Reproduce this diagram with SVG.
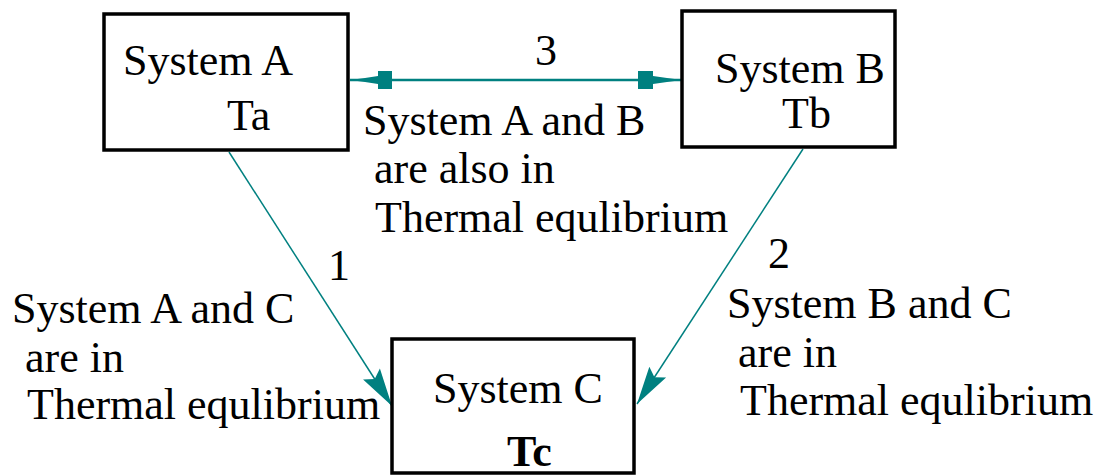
<svg xmlns="http://www.w3.org/2000/svg" width="1097" height="475" viewBox="0 0 1097 475">
<style>
.box{fill:#fff;stroke:#000;stroke-width:3.5}
text{font-family:'Liberation Serif','Times New Roman',Times,serif;font-size:44px;fill:#000}
.b{font-weight:bold}
.ln{stroke:#008080;fill:none}
.hd{fill:#008080;stroke:none}
</style>
<defs>
<marker id="ah" markerUnits="userSpaceOnUse" markerWidth="42" markerHeight="24" viewBox="-40 -11 42 22" refX="0" refY="0" orient="auto">
<path class="hd" d="M0,0 L-38,-10 L-32,0 L-38,10 Z"/>
</marker>
</defs>
<g id="connectors">
<line class="ln" x1="229" y1="152" x2="392" y2="406" stroke-width="1.5" marker-end="url(#ah)"/>
<line class="ln" x1="803" y1="149" x2="637" y2="404" stroke-width="1.5" marker-end="url(#ah)"/>
<line class="ln" x1="350" y1="80" x2="682" y2="80" stroke-width="2.5"/>
<polygon class="hd" points="682,80 667,78 653,76 653,71 638,71 638,89 653,89 653,84 667,82"/>
<polygon class="hd" points="350,80 365,78 378,76 378,71 392,71 392,89 378,89 378,84 365,82"/>
</g>
<g id="nodeA">
<rect class="box" x="104" y="14" width="244" height="136"/>
<text x="123" y="75" font-family="Liberation Serif, serif">System A</text>
<text x="227" y="130" font-family="Liberation Serif, serif">Ta</text>
</g>
<g id="nodeB">
<rect class="box" x="682" y="11" width="213" height="136"/>
<text x="715" y="83" font-family="Liberation Serif, serif">System B</text>
<text x="782" y="128" font-family="Liberation Serif, serif">Tb</text>
</g>
<g id="nodeC">
<rect class="box" x="392" y="339" width="242" height="134"/>
<text x="433" y="403" font-family="Liberation Serif, serif">System C</text>
<text class="b" x="507" y="466" font-family="Liberation Serif, serif">Tc</text>
</g>
<g id="labels" font-family="Liberation Serif, serif">
<text x="535" y="65">3</text>
<text x="328" y="280">1</text>
<text x="768" y="268">2</text>
<text x="363" y="135">System A and B</text>
<text x="374" y="183">are also in</text>
<text x="375" y="232">Thermal equlibrium</text>
<text x="12" y="323">System A and C</text>
<text x="25" y="372">are in</text>
<text x="27" y="419">Thermal equlibrium</text>
<text x="727" y="318">System B and C</text>
<text x="738" y="367">are in</text>
<text x="740" y="415">Thermal equlibrium</text>
</g>
</svg>
